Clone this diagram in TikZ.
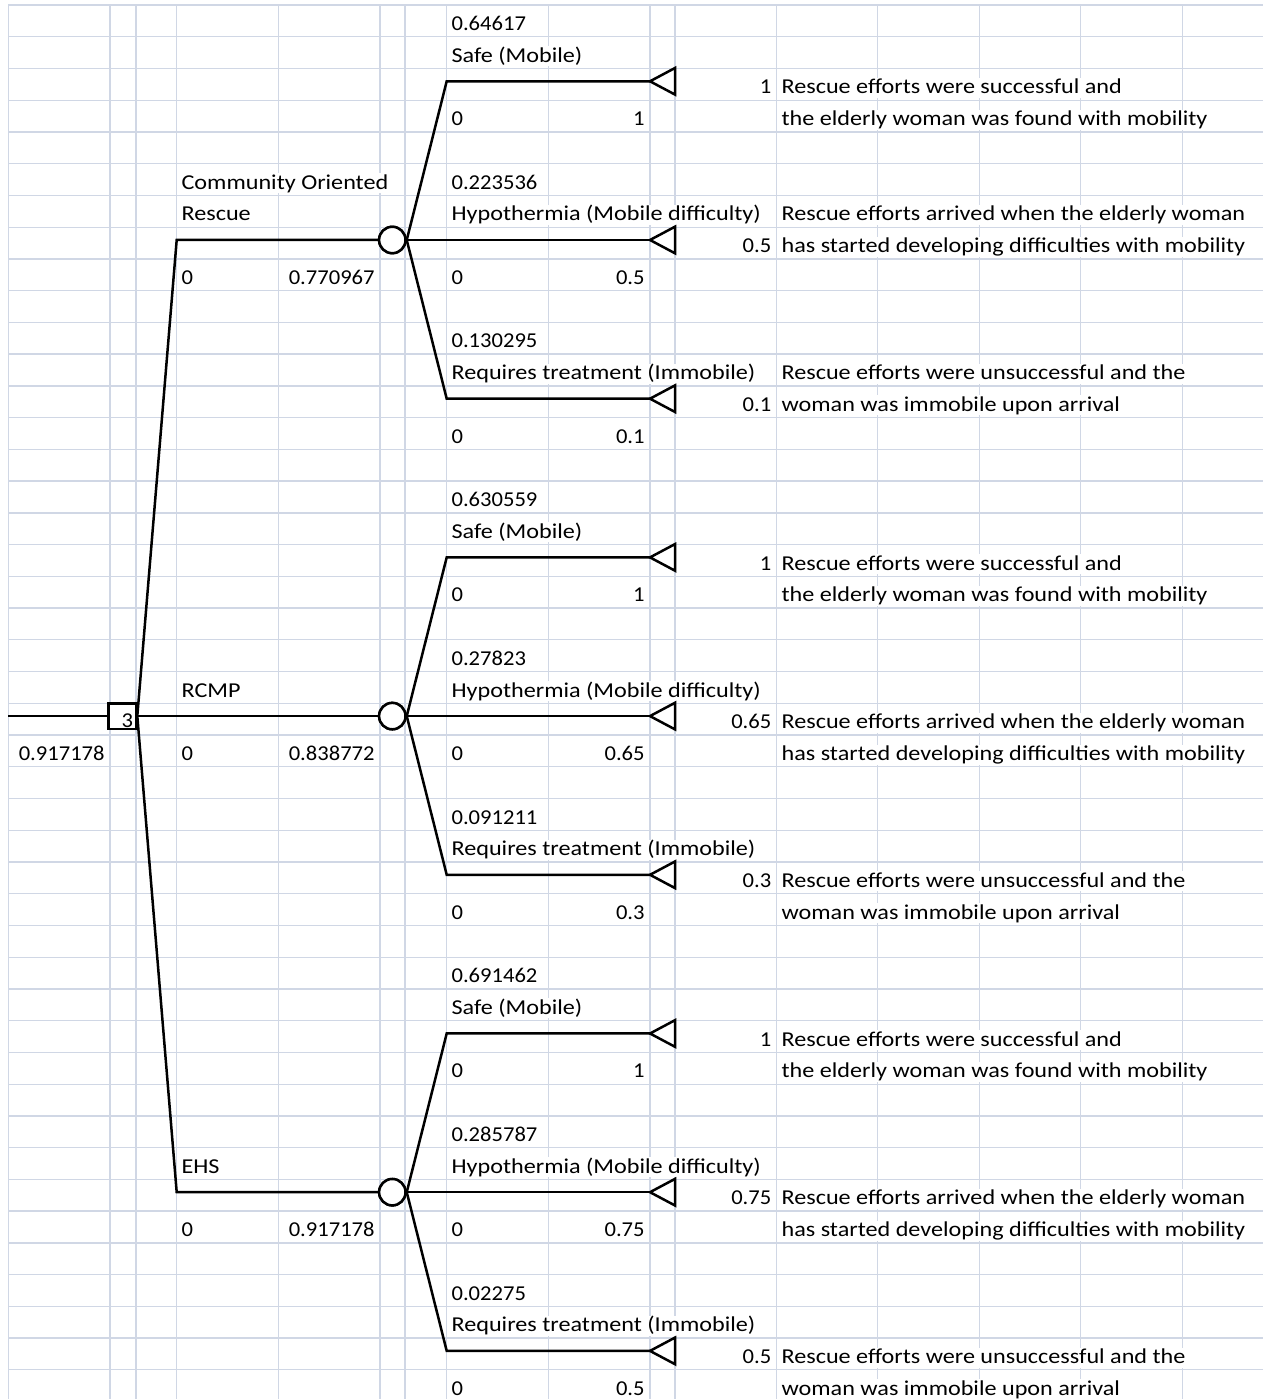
\documentclass[tikz,border=0pt]{standalone}
\usepackage{fontspec}
\setmainfont{Carlito}
\newfontfamily\wordfont[FakeStretch=1.14]{Carlito}
\newfontfamily\numfont[FakeStretch=1.065]{Carlito}
\definecolor{gridc}{RGB}{208,215,229}
\tikzset{
  gridline/.style={draw=gridc, line width=0.65pt},
  txt/.style={inner xsep=0pt, inner ysep=0.5pt, text height=7.5pt, text depth=1.5pt, fill=white},
  wtxt/.style={txt, font=\wordfont\fontsize{10.6pt}{12pt}\selectfont},
  ntxt/.style={txt, font=\numfont\fontsize{10.6pt}{12pt}\selectfont},
  branch/.style={draw=black, line width=1.25pt, line join=miter},
  decbox/.style={draw=black, line width=1.25pt, fill=white, rectangle, minimum width=13.85pt, minimum height=12.8pt, inner sep=0pt},
  chance/.style={draw=black, line width=1.25pt, fill=white, circle, minimum size=13.2pt, inner sep=0pt},
}
% word text, left aligned in cell
\newcommand\TL[4]{\node[wtxt, anchor=base west] (#1) at ({#2+4.5},{bl(#3)}) {#4};}
% number text, left / right aligned in cell
\newcommand\NL[4]{\node[ntxt, anchor=base west] (#1) at ({#2+4.5},{bl(#3)}) {#4};}
\newcommand\NR[4]{\node[ntxt, anchor=base east] (#1) at ({#2-5},{bl(#3)}) {#4};}
\begin{document}
\begin{tikzpicture}[x=0.5pt,y=-0.5pt,
  declare function={rt(\r)=5+31.74*\r; bl(\r)=5+31.74*\r+25.5; ly(\r)=5+31.74*\r+12.8;}]
\useasboundingbox (0,0) rectangle (1263,1399);
\fill[white] (0,0) rectangle (1263,1399);
% grid
\foreach \k in {0,...,43} \draw[gridline] (8.3,{rt(\k)}) -- (1263,{rt(\k)});
\foreach \x in {8.3,110,136,176.7,278.3,380,405,446.7,548.3,650,675,776.7,877.7,979.3,1080.7,1182.3}
  \draw[gridline] (\x,5) -- (\x,1399);

% ---- texts: group 1 ----
\NL{a0}{446.7}{0}{0.64617}
\TL{a1}{446.7}{1}{Safe (Mobile)}
\NR{a2}{776.7}{2}{1}
\TL{a3}{776.7}{2}{Rescue efforts were successful and}
\NL{a4}{446.7}{3}{0}
\NR{a5}{650}{3}{1}
\TL{a6}{776.7}{3}{the elderly woman was found with mobility}
\TL{a7}{176.7}{5}{Community Oriented}
\NL{a8}{446.7}{5}{0.223536}
\TL{a9}{176.7}{6}{Rescue}
\TL{a10}{446.7}{6}{Hypothermia (Mobile difficulty)}
\TL{a11}{776.7}{6}{Rescue efforts arrived when the elderly woman}
\NR{a12}{776.7}{7}{0.5}
\TL{a13}{776.7}{7}{has started developing difficulties with mobility}
\NL{a14}{176.7}{8}{0}
\NR{a15}{380}{8}{0.770967}
\NL{a16}{446.7}{8}{0}
\NR{a17}{650}{8}{0.5}
\NL{a18}{446.7}{10}{0.130295}
\TL{a19}{446.7}{11}{Requires treatment (Immobile)}
\TL{a20}{776.7}{11}{Rescue efforts were unsuccessful and the}
\NR{a21}{776.7}{12}{0.1}
\TL{a22}{776.7}{12}{woman was immobile upon arrival}
\NL{a23}{446.7}{13}{0}
\NR{a24}{650}{13}{0.1}

% ---- texts: group 2 ----
\NL{b0}{446.7}{15}{0.630559}
\TL{b1}{446.7}{16}{Safe (Mobile)}
\NR{b2}{776.7}{17}{1}
\TL{b3}{776.7}{17}{Rescue efforts were successful and}
\NL{b4}{446.7}{18}{0}
\NR{b5}{650}{18}{1}
\TL{b6}{776.7}{18}{the elderly woman was found with mobility}
\NL{b8}{446.7}{20}{0.27823}
\TL{b9}{176.7}{21}{RCMP}
\TL{b10}{446.7}{21}{Hypothermia (Mobile difficulty)}
\NR{b12}{776.7}{22}{0.65}
\TL{b11}{776.7}{22}{Rescue efforts arrived when the elderly woman}
\NR{b7}{110}{23}{0.917178}
\NL{b14}{176.7}{23}{0}
\NR{b15}{380}{23}{0.838772}
\NL{b16}{446.7}{23}{0}
\NR{b17}{650}{23}{0.65}
\TL{b13}{776.7}{23}{has started developing difficulties with mobility}
\NL{b18}{446.7}{25}{0.091211}
\TL{b19}{446.7}{26}{Requires treatment (Immobile)}
\NR{b21}{776.7}{27}{0.3}
\TL{b20}{776.7}{27}{Rescue efforts were unsuccessful and the}
\NL{b23}{446.7}{28}{0}
\NR{b24}{650}{28}{0.3}
\TL{b22}{776.7}{28}{woman was immobile upon arrival}

% ---- texts: group 3 ----
\NL{e0}{446.7}{30}{0.691462}
\TL{e1}{446.7}{31}{Safe (Mobile)}
\NR{e2}{776.7}{32}{1}
\TL{e3}{776.7}{32}{Rescue efforts were successful and}
\NL{e4}{446.7}{33}{0}
\NR{e5}{650}{33}{1}
\TL{e6}{776.7}{33}{the elderly woman was found with mobility}
\NL{e8}{446.7}{35}{0.285787}
\TL{e9}{176.7}{36}{EHS}
\TL{e10}{446.7}{36}{Hypothermia (Mobile difficulty)}
\NR{e12}{776.7}{37}{0.75}
\TL{e11}{776.7}{37}{Rescue efforts arrived when the elderly woman}
\NL{e14}{176.7}{38}{0}
\NR{e15}{380}{38}{0.917178}
\NL{e16}{446.7}{38}{0}
\NR{e17}{650}{38}{0.75}
\TL{e13}{776.7}{38}{has started developing difficulties with mobility}
\NL{e18}{446.7}{40}{0.02275}
\TL{e19}{446.7}{41}{Requires treatment (Immobile)}
\NR{e21}{776.7}{42}{0.5}
\TL{e20}{776.7}{42}{Rescue efforts were unsuccessful and the}
\NL{e23}{446.7}{43}{0}
\NR{e24}{650}{43}{0.5}
\TL{e22}{776.7}{43}{woman was immobile upon arrival}

% ---- tree ----
\coordinate (s0) at (8.3,{ly(22)});
\coordinate (k1) at (176.7,{ly(7)});
\coordinate (k3) at (176.7,{ly(37)});
\node[decbox] (dec) at (122.2,{ly(22)}) {};
\foreach \g/\G in {1/0,2/15,3/30}{
  \node[chance] (c\g) at (392.3,{ly(\G+7)}) {};
}
\draw[branch] (s0) -- (dec.west);
\draw[branch] (dec.east) -- (k1) -- (c1.west);
\draw[branch] (dec.east) -- (c2.west);
\draw[branch] (dec.east) -- (k3) -- (c3.west);
\foreach \g/\G in {1/0,2/15,3/30}{
  \coordinate (u\g) at (446.7,{ly(\G+2)});
  \coordinate (d\g) at (446.7,{ly(\G+12)});
  \coordinate (ta\g) at (650,{ly(\G+2)});
  \coordinate (tb\g) at (650,{ly(\G+7)});
  \coordinate (tc\g) at (650,{ly(\G+12)});
  \draw[branch] (c\g.east) -- (u\g) -- (ta\g);
  \draw[branch] (c\g.east) -- (tb\g);
  \draw[branch] (c\g.east) -- (d\g) -- (tc\g);
  \draw[branch] (ta\g) -- ++(25,-13.3) -- ++(0,26.6) -- cycle;
  \draw[branch] (tb\g) -- ++(25,-13.3) -- ++(0,26.6) -- cycle;
  \draw[branch] (tc\g) -- ++(25,-13.3) -- ++(0,26.6) -- cycle;
}
\node[decbox] (dec2) at (dec) {};
\foreach \g/\G in {1/0,2/15,3/30}{
  \node[chance] (cc\g) at (c\g) {};
}
\node[font=\numfont\fontsize{10.6pt}{12pt}\selectfont, anchor=base east, inner sep=0pt] (dnum) at (133.5,727) {3};
\end{tikzpicture}
\end{document}
